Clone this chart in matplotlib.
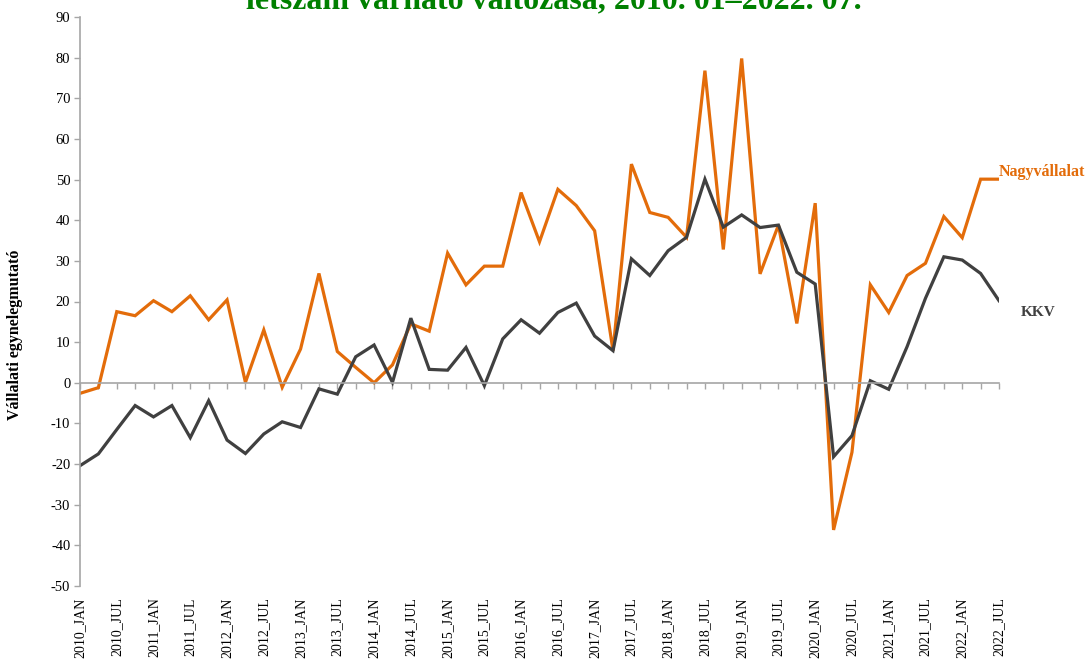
import matplotlib
matplotlib.use("Agg")
import matplotlib.pyplot as plt

# quarterly data, 2010 Q1 .. 2022 Q3
nagy = [-2.6, -1.2, 17.5, 16.5, 20.2, 17.5, 21.4, 15.5, 20.4, 0.1,
        13.0, -1.1, 8.3, 26.9, 7.7, 3.8, 0.0, 4.4, 14.5, 12.7,
        31.9, 24.1, 28.7, 28.7, 46.8, 34.7, 47.6, 43.6, 37.4, 7.9,
        53.8, 41.9, 40.7, 35.8, 76.8, 32.8, 79.8, 26.8, 38.8, 14.6,
        44.2, -36.2, -17.1, 24.1, 17.3, 26.4, 29.4, 40.9, 35.7, 50.1,
        50.1]
kkv = [-20.4, -17.5, -11.5, -5.6, -8.4, -5.6, -13.5, -4.4, -14.1, -17.4,
       -12.6, -9.6, -11.0, -1.5, -2.8, 6.4, 9.3, 0.1, 15.9, 3.3,
       3.1, 8.7, -0.7, 10.8, 15.5, 12.2, 17.3, 19.6, 11.5, 7.9,
       30.5, 26.4, 32.5, 35.8, 50.1, 38.3, 41.3, 38.2, 38.8, 27.2,
       24.3, -18.2, -13.0, 0.5, -1.6, 8.9, 20.8, 31.0, 30.2, 26.9,
       20.2]

labels = []
for year in range(2010, 2023):
    labels.append(f"{year}_JAN")
    labels.append(f"{year}_JUL")

x = list(range(len(nagy)))

orange = "#E36C0A"
dark = "#404040"
grid_c = "#A6A6A6"

plt.rcParams['font.family'] = ['Liberation Serif', 'DejaVu Serif']
plt.rcParams['axes.unicode_minus'] = False

fig = plt.figure(figsize=(10.88, 6.61), dpi=100)
ax = fig.add_axes([80 / 1088, 1 - 586 / 661, 919 / 1088, 569 / 661])

ax.plot(x, nagy, color=orange, lw=2.3, solid_joinstyle='miter')
ax.plot(x, kkv, color=dark, lw=2.3, solid_joinstyle='miter')

ax.set_xlim(0, len(nagy) - 1)
ax.set_ylim(-50, 90)
ax.set_yticks(range(-50, 91, 10))
ax.tick_params(axis='y', labelsize=10.5, length=4, color=grid_c, width=1, pad=3)

ax.spines['top'].set_visible(False)
ax.spines['right'].set_visible(False)
ax.spines['left'].set_color(grid_c)
ax.spines['left'].set_linewidth(1.2)
ax.spines['bottom'].set_position(('data', 0))
ax.spines['bottom'].set_color(grid_c)
ax.spines['bottom'].set_linewidth(1.2)

ax.set_xticks(x)
ax.set_xticklabels([])
ax.tick_params(axis='x', length=4, color=grid_c, width=1, direction='out')

for i, lab in enumerate(labels):
    ax.text(2 * i, -0.02, lab, transform=ax.get_xaxis_transform(),
            rotation=90, ha='center', va='top', fontsize=10)

ax.set_ylabel("Vállalati egynelegmutató", fontsize=11.5, fontweight='bold')
ax.yaxis.set_label_coords(-0.062, 0.442)

ax.text(len(nagy) - 1, nagy[-1] + 0.8, "Nagyvállalat", color=orange,
        fontsize=11.5, fontweight='bold', ha='left', va='baseline', clip_on=False)
ax.text(len(kkv) + 0.2, 17.4, "KKV", color=dark,
        fontsize=11, fontweight='bold', ha='left', va='center', clip_on=False)

fig.text(554 / 1088, 1 - 8 / 661, "létszám várható változása, 2010. 01–2022. 07.",
         color="#008000", fontsize=23, fontweight='bold', ha='center', va='baseline')

fig.savefig("out.png", dpi=100)
